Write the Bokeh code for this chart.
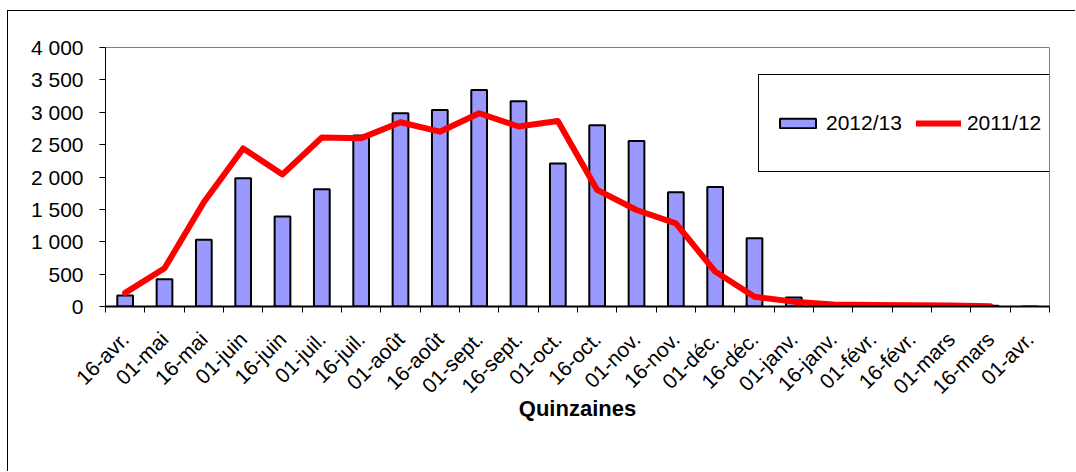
import math
from bokeh.plotting import figure
from bokeh.models import (ColumnDataSource, Range1d, FixedTicker, Legend, LegendItem)
from bokeh.embed import file_html
from bokeh.resources import INLINE

categories = ["16-avr.", "01-mai", "16-mai", "01-juin", "16-juin", "01-juil.", "16-juil.",
              "01-août", "16-août", "01-sept.", "16-sept.", "01-oct.", "16-oct.", "01-nov.",
              "16-nov.", "01-déc.", "16-déc.", "01-janv.", "16-janv.", "01-févr.", "16-févr.",
              "01-mars", "16-mars", "01-avr."]
s2012_13 = [170, 420, 1030, 1980, 1390, 1810, 2640, 2985, 3035, 3345, 3170, 2210,
            2800, 2555, 1765, 1845, 1055, 140, 0, 0, 0, 0, 10, 0]
s2011_12 = [210, 590, 1610, 2440, 2040, 2610, 2600, 2845, 2700, 2985, 2780, 2865,
            1800, 1490, 1285, 540, 150, 75, 30, 25, 20, 15, 5, float("nan")]
y_ticks = [0, 500, 1000, 1500, 2000, 2500, 3000, 3500, 4000]

FONT = "Liberation Sans"

src = ColumnDataSource(dict(x=list(range(len(categories))), cat=categories,
                            bar=s2012_13, line=s2011_12))

p = figure(frame_width=944, frame_height=259,
           x_range=Range1d(-0.5, len(categories) - 0.5), y_range=Range1d(0, 4000),
           output_backend="svg", toolbar_location=None,
           min_border_left=97, min_border_top=36, min_border_right=26, min_border_bottom=165,
           background_fill_color="white", border_fill_color="white",
           styles={"border-left": "1px solid black", "border-top": "1px solid black",
                   "margin-left": "7px", "margin-top": "10px"})
p.outline_line_color = "#808080"
p.outline_line_width = 1
p.xgrid.visible = False
p.ygrid.visible = False

bars = p.vbar(x="x", top="bar", width=0.4, source=src, fill_color="#9999FF",
              line_color="black", line_width=2)
ln = p.line(x="x", y="line", source=src, line_color="#FF0000", line_width=6,
            line_join="round", line_cap="round")

# x axis
xa = p.xaxis[0]
xa.ticker = FixedTicker(ticks=list(range(len(categories))),
                        minor_ticks=[i - 0.5 for i in range(len(categories) + 1)])
xa.major_label_overrides = {i: c for i, c in enumerate(categories)}
xa.major_label_orientation = math.pi / 4
xa.major_tick_out = 0
xa.major_tick_in = 0
xa.minor_tick_out = 6
xa.minor_tick_in = 0
xa.minor_tick_line_color = "black"
xa.axis_line_color = "black"
xa.axis_line_width = 2
xa.major_label_text_font = FONT
xa.major_label_text_font_size = "21px"
xa.major_label_text_color = "black"
xa.major_label_standoff = 23
xa.axis_label = "Quinzaines"
xa.axis_label_text_font = FONT
xa.axis_label_text_font_size = "22px"
xa.axis_label_text_font_style = "bold"
xa.axis_label_text_color = "black"
xa.axis_label_standoff = -13

# y axis
ya = p.yaxis[0]
ya.ticker = FixedTicker(ticks=y_ticks)
ya.major_label_overrides = {v: f"{v:,}".replace(",", " ") for v in y_ticks}
ya.major_tick_out = 6
ya.major_tick_in = 0
ya.minor_tick_out = 0
ya.minor_tick_in = 0
ya.major_tick_line_color = "black"
ya.axis_line_color = "black"
ya.axis_line_width = 1
ya.major_label_text_font = FONT
ya.major_label_text_font_size = "21px"
ya.major_label_text_color = "black"
ya.major_label_standoff = 16

legend = Legend(items=[LegendItem(label="2012/13", renderers=[bars]),
                       LegendItem(label="2011/12", renderers=[ln])],
                orientation="horizontal", location=(653, 134),
                border_line_color="black", border_line_width=1, border_line_alpha=1,
                background_fill_color="white", background_fill_alpha=1,
                padding=16, spacing=14, label_standoff=6, margin=0,
                glyph_width=45, glyph_height=12, label_height=64,
                label_text_font=FONT, label_text_font_size="21px", label_text_color="black")
p.add_layout(legend)

open("out.html", "w").write(file_html(p, INLINE))
